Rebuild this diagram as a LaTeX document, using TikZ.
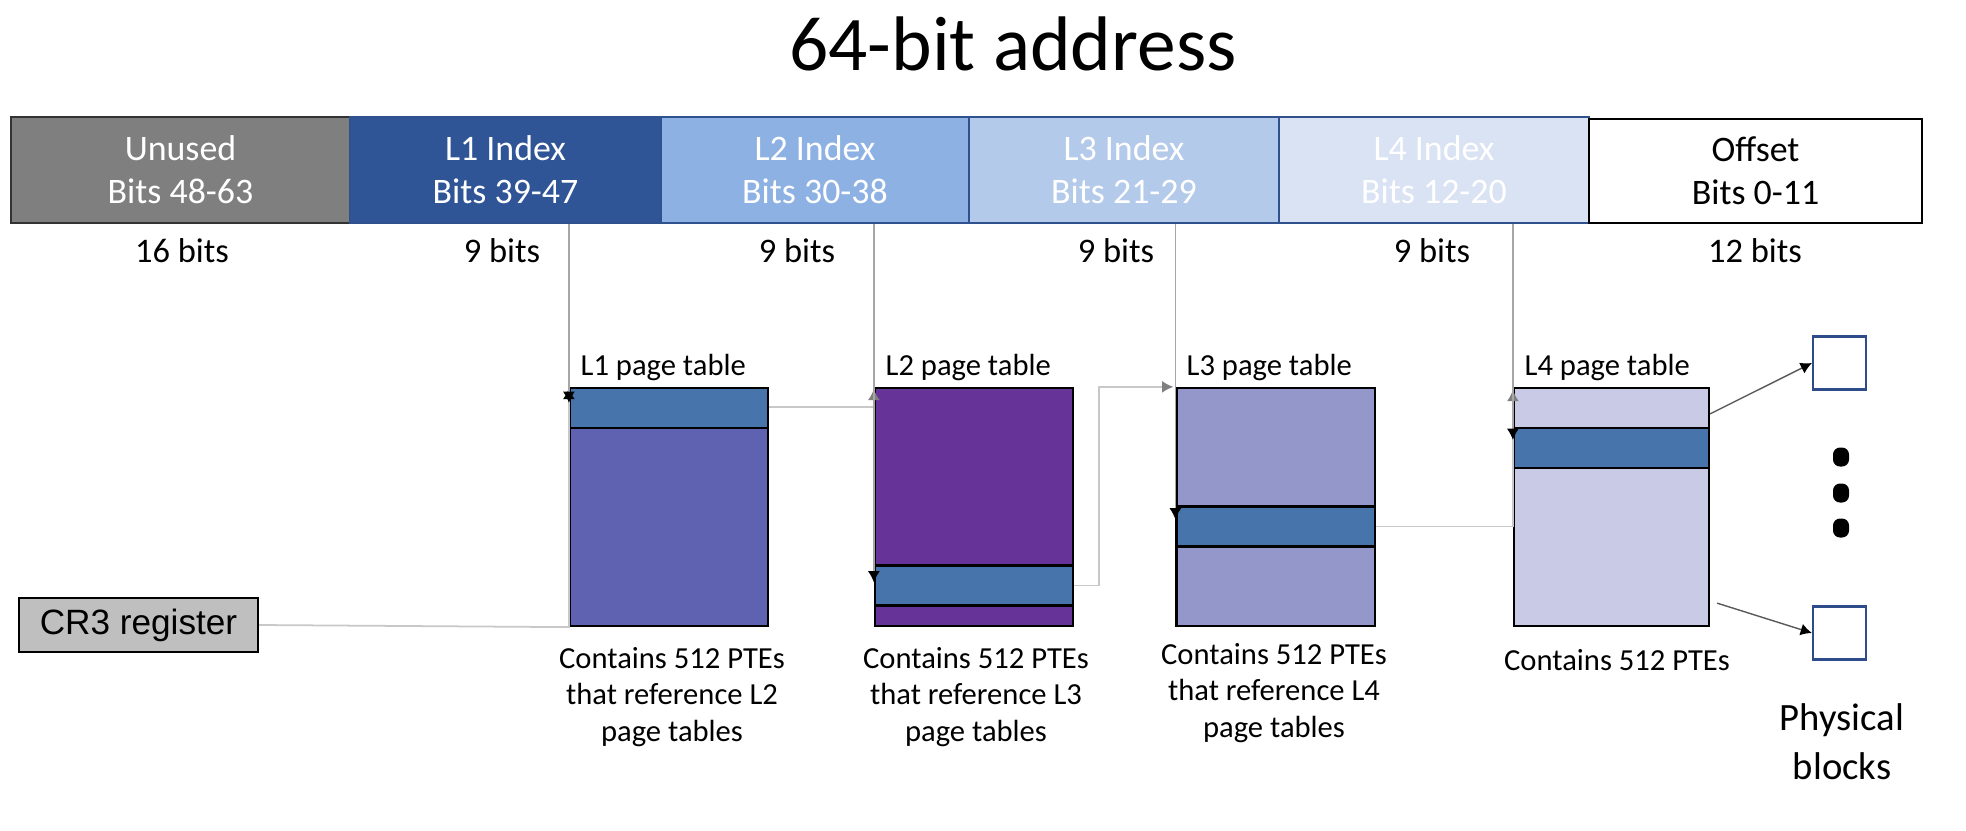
\documentclass[tikz,border=0pt]{standalone}
\usepackage{fontspec}
\setmainfont{Carlito}
\newfontfamily\arialfont{Liberation Sans}
\usetikzlibrary{arrows.meta,calc}
\definecolor{unusedgray}{HTML}{7F7F7F}
\definecolor{lone}{HTML}{2F5597}
\definecolor{ltwo}{HTML}{8DB1E2}
\definecolor{lthree}{HTML}{B4CAEA}
\definecolor{lfour}{HTML}{DAE3F3}
\definecolor{cellborder}{HTML}{2F528F}
\definecolor{ptone}{HTML}{5E62B0}
\definecolor{pttwo}{HTML}{663399}
\definecolor{ptthree}{HTML}{9497CA}
\definecolor{ptfour}{HTML}{C9CAE5}
\definecolor{stripe}{HTML}{4674AB}
\definecolor{crgray}{HTML}{BFBFBF}
\definecolor{linegray}{HTML}{A6A6A6}
\definecolor{lightline}{HTML}{C8C8C8}
\definecolor{blockborder}{HTML}{2F4C8A}
\begin{document}
\begin{tikzpicture}[x=0.01cm,y=-0.01cm,
 cell/.style={draw=cellborder, line width=0.6pt, minimum height=1.06cm, inner sep=0pt, align=center, text=white, font=\fontsize{10.2}{12.2}\selectfont},
 ptab/.style={draw=black, line width=0.6pt, minimum width=1.98cm, minimum height=2.38cm, inner sep=0pt},
 pte/.style={draw=black, fill=stripe, line width=0.6pt, minimum width=1.98cm, minimum height=0.40cm, inner sep=0pt},
 bitlbl/.style={font=\fontsize{9.8}{11.7}\selectfont, inner sep=0pt},
 tlbl/.style={font=\fontsize{8.7}{10.4}\selectfont, inner sep=0pt, anchor=west},
 captxt/.style={font=\fontsize{8.7}{10.44}\selectfont, align=center, inner sep=0pt},
 conn/.style={draw=linegray, line width=0.4pt},
 lconn/.style={draw=lightline, line width=0.5pt},
 blackhead/.style={-{Latex[length=3.2pt,width=3.4pt,color=black,fill=black]}},
 grayhead/.style={-{Latex[length=3.2pt,width=3.4pt,fill=gray,color=gray]}},
 blk/.style={draw=blockborder, line width=0.6pt, minimum size=0.53cm, inner sep=0pt},
 dotb/.style={fill=black, minimum width=0.16cm, minimum height=0.19cm, rounded corners=0.07cm, inner sep=0pt},
]
\useasboundingbox (0,0) rectangle (1966,830);

% title
\node[font=\fontsize{22}{26}\selectfont, inner sep=0pt] (title) at (1013,44) {64-bit address};

% address bar
\node[cell, draw=black!80, fill=unusedgray, minimum width=3.39cm] (unused) at (180.5,170) {Unused\\Bits 48-63};
\node[cell, fill=lone, minimum width=3.11cm] (lA) at (505.5,170) {L1 Index\\Bits 39-47};
\node[cell, fill=ltwo, minimum width=3.08cm] (lB) at (815,170) {L2 Index\\Bits 30-38};
\node[cell, fill=lthree, minimum width=3.10cm] (lC) at (1124,170) {L3 Index\\Bits 21-29};
\node[cell, fill=lfour, minimum width=3.10cm] (lD) at (1434,170) {L4 Index\\Bits 12-20};
\node[cell, draw=black, fill=white, text=black, minimum width=3.33cm, minimum height=1.04cm] (offset) at (1755.5,171) {Offset\\Bits 0-11};

% bit counts
\node[bitlbl] (bA) at (182,251) {16 bits};
\node[bitlbl] (bB) at (502,251) {9 bits};
\node[bitlbl] (bC) at (797,251) {9 bits};
\node[bitlbl] (bD) at (1116,251) {9 bits};
\node[bitlbl] (bE) at (1432,251) {9 bits};
\node[bitlbl] (bF) at (1755,251) {12 bits};

% page tables
\node[ptab, fill=ptone] (ptA) at (669,507) {};
\node[ptab, fill=pttwo] (ptB) at (974,507) {};
\node[ptab, fill=ptthree] (ptC) at (1275.5,507) {};
\node[ptab, fill=ptfour, minimum width=1.95cm] (ptD) at (1611.5,507) {};

\node[pte] (sA) at (669,408) {};
\node[pte] (sB) at (974,585.5) {};
\node[pte] (sC) at (1275.5,526.5) {};
\node[pte, minimum width=1.95cm] (sD) at (1611.5,448) {};

% table labels
\node[tlbl] (tA) at (580,367) {L1 page table};
\node[tlbl] (tB) at (885,367) {L2 page table};
\node[tlbl] (tC) at (1186,367) {L3 page table};
\node[tlbl] (tD) at (1524,367) {L4 page table};

% captions
\node[captxt] (cA) at (672,697) {Contains 512 PTEs\\that reference L2\\page tables};
\node[captxt] (cB) at (976,697) {Contains 512 PTEs\\that reference L3\\page tables};
\node[captxt] (cC) at (1274,693) {Contains 512 PTEs\\that reference L4\\page tables};
\node[captxt] (cD) at (1617,660) {Contains 512 PTEs};

% CR3
\node[draw=black, line width=0.6pt, fill=crgray, minimum width=2.39cm, minimum height=0.54cm, inner sep=0pt, font=\arialfont\fontsize{10}{12}\selectfont] (cr) at (138.5,625) {CR3 register\hspace{0.1cm}};

% physical blocks
\node[blk] (pbA) at (1839.5,363) {};
\node[blk] (pbB) at (1839.5,633) {};
\node[dotb] (dA) at (1841,457) {};
\node[dotb] (dB) at (1841,493) {};
\node[dotb] (dC) at (1841,528) {};
\node[font=\fontsize{11}{14}\selectfont, align=center, inner sep=0pt] (phys) at (1842,742) {Physical\\blocks};

% connectors
\coordinate (ptAnw) at (ptA.north west);
\draw[lconn, blackhead] (cr.east) -- (ptA.south west) -- ($(ptAnw)+(0,1)$);
\draw[conn, blackhead] (lA.south -| ptA.west) -- ($(ptAnw)+(0,16)$);

\coordinate (jA) at (sA.east -| ptB.west);
\draw[lconn, grayhead] ($(sA.east)+(0,-1)$) -- ($(jA)+(0,-1)$) -- ($(ptB.north west)+(0,2)$);
\draw[conn, blackhead] (lB.south -| ptB.west) -- ($(sB.north west)+(0,18)$);

\coordinate (jB) at ($(sB.east)+(25,0)$);
\draw[lconn, grayhead] (sB.east) -- (jB) -- (jB |- ptC.north) -- ($(ptC.north west)+(-2,0)$);
\draw[conn, blackhead] (lC.south -| ptC.west) -- ($(sC.north west)+(0,14)$);

\draw[lconn, grayhead] (sC.east) -- (sC.east -| ptD.west) -- ($(ptD.north west)+(0,3)$);
\draw[conn, blackhead] (lD.south -| ptD.west) -- ($(sD.north west)+(0,13)$);

\draw[draw=black!65, line width=0.4pt, blackhead] ($(ptD.north east)+(0,27)$) -- (pbA.west);
\draw[draw=black!65, line width=0.4pt, blackhead] ($(ptD.south east)+(7,-24)$) -- (pbB.west);
\end{tikzpicture}
\end{document}
